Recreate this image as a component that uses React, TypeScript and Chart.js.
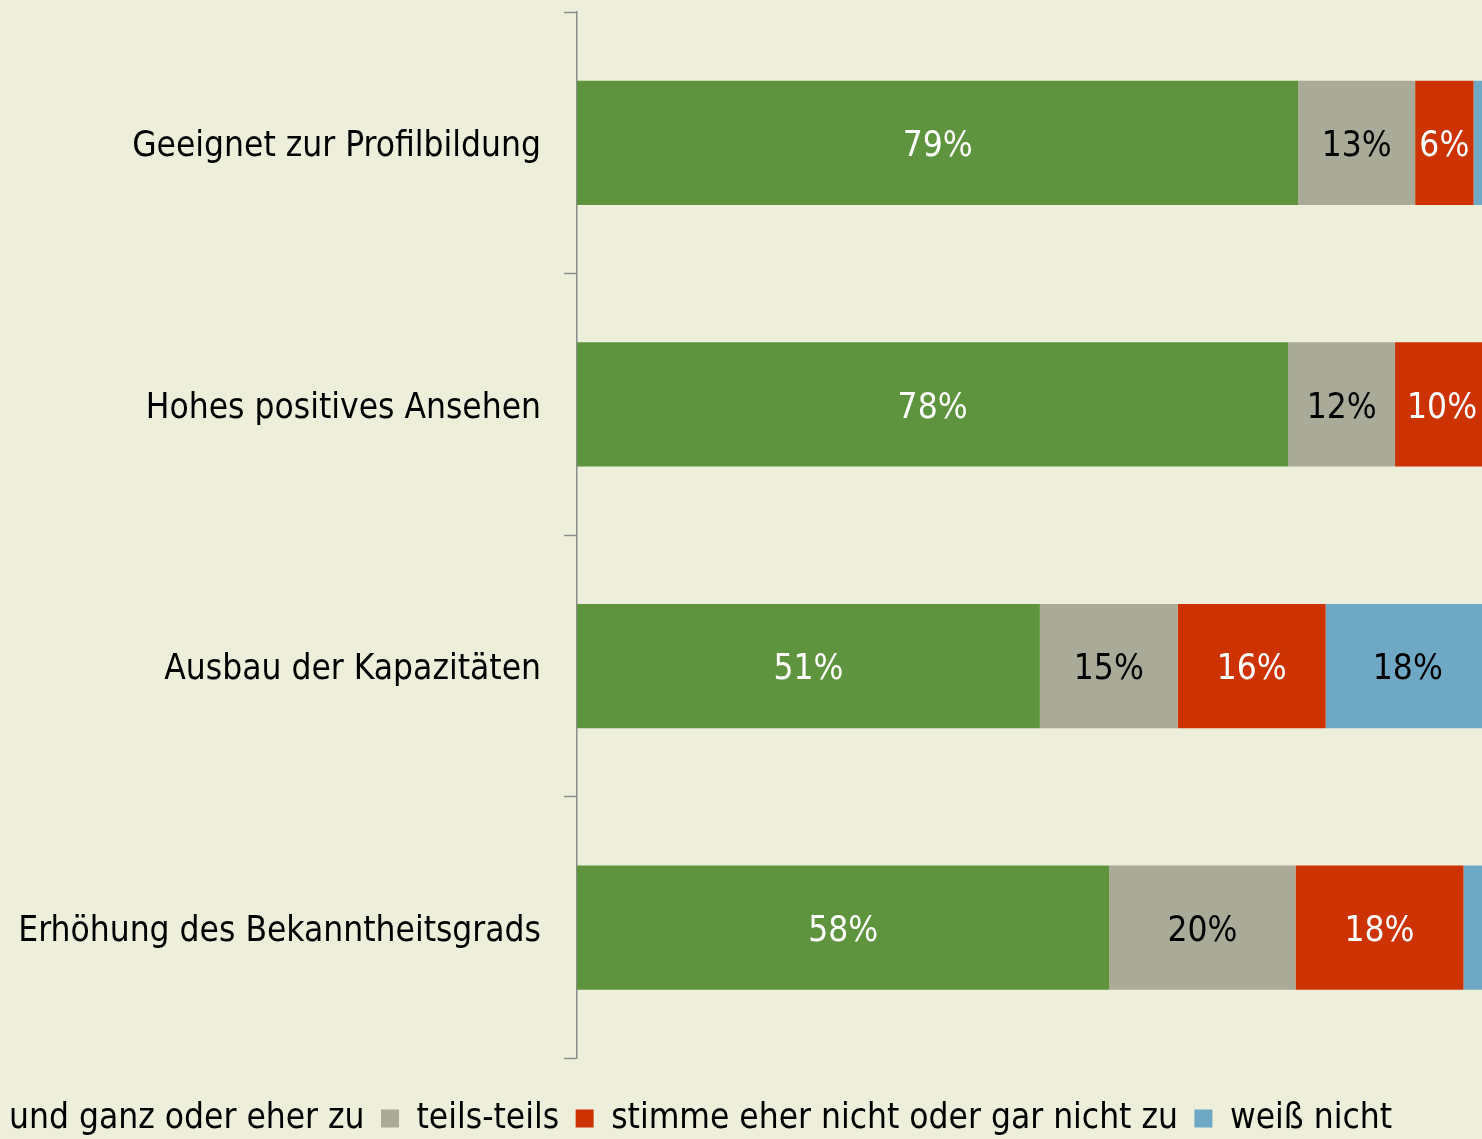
import React, { useEffect, useRef } from "react";
import { Chart, registerables } from "chart.js";

Chart.register(...registerables);

const categories = [
  "Geeignet zur Profilbildung",
  "Hohes positives Ansehen",
  "Ausbau der Kapazitäten",
  "Erhöhung des Bekanntheitsgrads",
];
const seriesNames = [
  "stimme voll und ganz oder eher zu",
  "teils-teils",
  "stimme eher nicht oder gar nicht zu",
  "weiß nicht",
];
const agree = [79.0, 77.9, 50.7, 58.3];
const neutral = [12.8, 11.7, 15.1, 20.4];
const disagree = [6.4, 10.3, 16.2, 18.4];
const dontKnow = [1.8, 0.1, 18.0, 2.9];

const seriesColors = ["#5E943E", "#AAAA98", "#CC3300", "#6FA8C5"];
const labelColors = ["#FFFFFF", "#000000", "#FFFFFF", "#000000"];

const FONT = "'DejaVu Sans Condensed', 'DejaVu Sans', sans-serif";
const FONT_SIZE = 35;
const TEXT_SHIFT = 4;

const CANVAS_W = 1808;
const CANVAS_H = 1146;
const CANVAS_LEFT = -318;
const Y_AXIS_WIDTH = 895;

const labelPlugin = {
  id: "barLabels",
  afterDatasetsDraw(chart: any) {
    const ctx = chart.ctx;
    ctx.save();
    ctx.font = `${FONT_SIZE}px ${FONT}`;
    ctx.textAlign = "center";
    ctx.textBaseline = "middle";
    chart.data.datasets.forEach((ds: any, di: number) => {
      const meta = chart.getDatasetMeta(di);
      meta.data.forEach((bar: any, i: number) => {
        const v = ds.data[i] as number;
        if (v < 5) return;
        const p = bar.getProps(["x", "y", "base"], true);
        ctx.fillStyle = labelColors[di];
        ctx.fillText(Math.round(v) + "%", (p.x + p.base) / 2, p.y + TEXT_SHIFT);
      });
    });
    ctx.restore();
  },
};

export default function App() {
  const ref = useRef<HTMLCanvasElement | null>(null);

  useEffect(() => {
    document.body.style.margin = "0";
    const canvas = ref.current!;
    const values = [agree, neutral, disagree, dontKnow];
    const chart = new Chart(canvas, {
      type: "bar",
      data: {
        labels: categories,
        datasets: seriesNames.map((name, i) => ({
          label: name,
          data: values[i],
          backgroundColor: seriesColors[i],
          borderWidth: 0,
          barPercentage: 0.475,
          categoryPercentage: 1,
        })),
      },
      options: {
        indexAxis: "y",
        responsive: false,
        animation: false,
        devicePixelRatio: 1,
        layout: { padding: { top: 12, left: 0, right: 0, bottom: 0 } },
        plugins: {
          tooltip: { enabled: false },
          legend: {
            position: "bottom",
            align: "center",
            labels: {
              boxWidth: 18,
              boxHeight: 18,
              padding: 16.5,
              color: "#000000",
              font: { family: FONT, size: FONT_SIZE },
            },
          },
        },
        scales: {
          x: {
            stacked: true,
            min: 0,
            max: 100,
            display: true,
            ticks: { display: false },
            grid: { display: false },
            border: { display: false },
            afterFit: (s: any) => {
              s.height = 26;
              s.paddingLeft = 0;
              s.paddingRight = 0;
            },
          },
          y: {
            stacked: true,
            ticks: {
              color: "#000000",
              font: { family: FONT, size: FONT_SIZE },
              padding: 23,
              labelOffset: TEXT_SHIFT,
            },
            grid: {
              display: true,
              drawOnChartArea: false,
              drawTicks: true,
              tickLength: 13,
              tickWidth: 1.5,
              tickColor: "#8C8C8C",
              color: "#8C8C8C",
              offset: true,
            },
            border: { display: true, color: "#8C8C8C", width: 1.5 },
            afterFit: (s: any) => {
              s.width = Y_AXIS_WIDTH;
              s.paddingTop = 0;
              s.paddingBottom = 0;
            },
          },
        },
      },
      plugins: [labelPlugin],
    } as any);
    return () => chart.destroy();
  }, []);

  return (
    <div
      style={{
        position: "fixed",
        left: 0,
        top: 0,
        width: 1482,
        height: 1139,
        overflow: "hidden",
        background: "#EEEFDB",
      }}
    >
      <canvas
        ref={ref}
        width={CANVAS_W}
        height={CANVAS_H}
        style={{ position: "absolute", left: CANVAS_LEFT, top: 0, width: CANVAS_W, height: CANVAS_H }}
      />
    </div>
  );
}
